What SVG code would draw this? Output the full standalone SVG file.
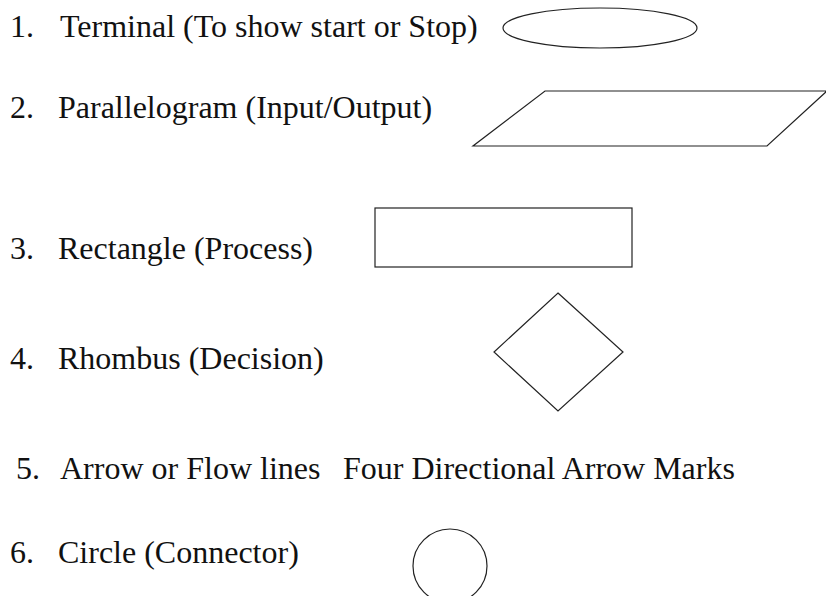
<svg xmlns="http://www.w3.org/2000/svg" width="826" height="596" viewBox="0 0 826 596">
<style>
  text { font-family: "Liberation Serif", "Times New Roman", serif; font-size: 32px; fill: #111; }
  .shape { fill: none; stroke: #222; stroke-width: 1.2; }
</style>
<rect x="0" y="0" width="826" height="596" fill="#fff"/>
<g id="labels">
  <text x="10" y="37">1.</text><text x="60" y="37">Terminal (To show start or Stop)</text>
  <text x="10" y="118">2.</text><text x="58" y="118">Parallelogram (Input/Output)</text>
  <text x="10" y="259">3.</text><text x="58" y="259">Rectangle (Process)</text>
  <text x="10" y="369">4.</text><text x="58" y="369">Rhombus (Decision)</text>
  <text x="16" y="479">5.</text><text x="60" y="479">Arrow or Flow lines</text><text x="343" y="479">Four Directional Arrow Marks</text>
  <text x="10" y="563">6.</text><text x="58" y="563">Circle (Connector)</text>
</g>
<g id="terminal"><ellipse class="shape" cx="600" cy="28" rx="97" ry="20"/></g>
<g id="parallelogram"><polygon class="shape" points="545,91 827,91 767,146 473,146"/></g>
<g id="rectangle"><rect class="shape" x="375" y="208" width="257" height="59"/></g>
<g id="rhombus"><polygon class="shape" points="558,293 623,352 558,411 494,352"/></g>
<g id="circle"><ellipse class="shape" cx="450" cy="566" rx="37" ry="37"/></g>
<g id="connectors"></g>
</svg>
